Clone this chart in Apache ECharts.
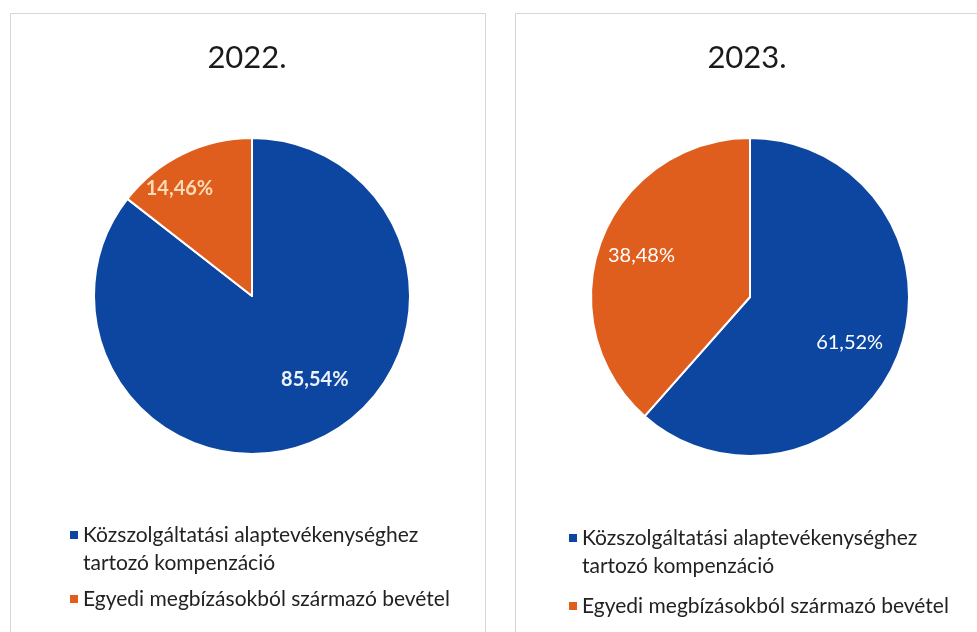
<!DOCTYPE html>
<html>
<head>
<meta charset="utf-8">
<script src="https://cdn.jsdelivr.net/npm/echarts@6/dist/echarts.min.js"></script>
<style>
html,body{margin:0;padding:0;background:#fff;}
#c{width:977px;height:632px;}
</style>
</head>
<body>
<div id="c"></div>
<script>
const years = ['2022.', '2023.'];
const categories = ['Közszolgáltatási alaptevékenységhez tartozó kompenzáció', 'Egyedi megbízásokból származó bevétel'];
const values2022 = [85.54, 14.46];
const values2023 = [61.52, 38.48];
const valueLabels2022 = ['85,54%', '14,46%'];
const valueLabels2023 = ['61,52%', '38,48%'];

const allValues = [values2022, values2023];
const allLabels = [valueLabels2022, valueLabels2023];

const BLUE = '#0c46a0';
const ORANGE = '#df5d1d';
const FONT = 'Lato';

const pieGeom = [
  {cx: 252, cy: 296, r: 158},
  {cx: 750, cy: 297, r: 159}
];
// label placement tweaks (radius fraction, angle shift in degrees)
const labelTweak = [
  [{f: 0.66, da: -11}, {f: 0.82, da: -8}],
  [{f: 0.69, da: 4}, {f: 0.73, da: 0}]
];

function legendFormatter(name) {
  return name === categories[0]
    ? 'Közszolgáltatási alaptevékenységhez\ntartozó kompenzáció'
    : name;
}
// icons: square aligned to first text line (tall invisible extent)
const iconTop = 'path://M0,0h8v8h-8z M0,0L8,0 M0,36L8,36';
const iconMid = 'path://M0,14h8v8h-8z M0,0L8,0 M0,36L8,36';

function makeLegend(left, top, gap) {
  return {
    left: left, top: top, orient: 'vertical',
    itemWidth: 8, itemHeight: 36, itemGap: gap,
    selectedMode: false,
    itemStyle: {borderWidth: 0},
    formatter: legendFormatter,
    textStyle: {fontFamily: FONT, fontSize: 21, color: '#222', lineHeight: 28},
    data: [
      {name: categories[0], icon: iconTop},
      {name: categories[1], icon: iconMid}
    ]
  };
}

function makeSeries(idx) {
  const vals = allValues[idx];
  const g = pieGeom[idx];
  const total = vals.reduce((a, b) => a + b, 0);
  return {
    type: 'pie',
    center: [g.cx, g.cy],
    radius: g.r,
    startAngle: 90,
    clockwise: true,
    animation: false,
    silent: true,
    itemStyle: {borderColor: '#fff', borderWidth: 2},
    label: {
      show: true, position: 'inside',
      fontFamily: FONT, fontSize: 20, color: '#fff',
      fontWeight: idx === 0 ? 'bold' : 'normal',
      formatter: p => allLabels[idx][p.dataIndex]
    },
    labelLine: {show: false},
    labelLayout: function (p) {
      const i = p.dataIndex;
      let start = 0;
      for (let k = 0; k < i; k++) start += vals[k];
      const t = labelTweak[idx][i];
      const mid = ((start + vals[i] / 2) / total) * 360 + t.da;
      const rad = mid * Math.PI / 180;
      const rr = g.r * t.f;
      return {
        x: g.cx + rr * Math.sin(rad),
        y: g.cy - rr * Math.cos(rad),
        align: 'center', verticalAlign: 'middle'
      };
    },
    data: categories.map((c, k) => {
      const d = {name: c, value: vals[k], itemStyle: {color: k === 0 ? BLUE : ORANGE}};
      if (idx === 0) {
        d.label = {color: k === 1 ? '#fbdcb4' : '#eef2fb'};
      }
      return d;
    })
  };
}

const chart = echarts.init(document.getElementById('c'), null, {renderer: 'canvas'});
chart.setOption({
  backgroundColor: '#fff',
  animation: false,
  title: [
    {text: years[0], left: 242, top: 37, textAlign: 'center',
     textStyle: {fontFamily: FONT, fontSize: 31, fontWeight: 'normal', color: '#1a1a1a'}},
    {text: years[1], left: 742, top: 37, textAlign: 'center',
     textStyle: {fontFamily: FONT, fontSize: 31, fontWeight: 'normal', color: '#1a1a1a'}}
  ],
  legend: [makeLegend(65, 516, 4), makeLegend(564, 519, 8)],
  graphic: [
    {type: 'rect', silent: true, z: -1, shape: {x: 10.5, y: 13.5, width: 475, height: 650},
     style: {fill: 'none', stroke: '#d6d6d6', lineWidth: 1}},
    {type: 'rect', silent: true, z: -1, shape: {x: 515.5, y: 13.5, width: 480, height: 650},
     style: {fill: 'none', stroke: '#d6d6d6', lineWidth: 1}}
  ],
  series: [makeSeries(0), makeSeries(1)]
});
</script>
</body>
</html>
